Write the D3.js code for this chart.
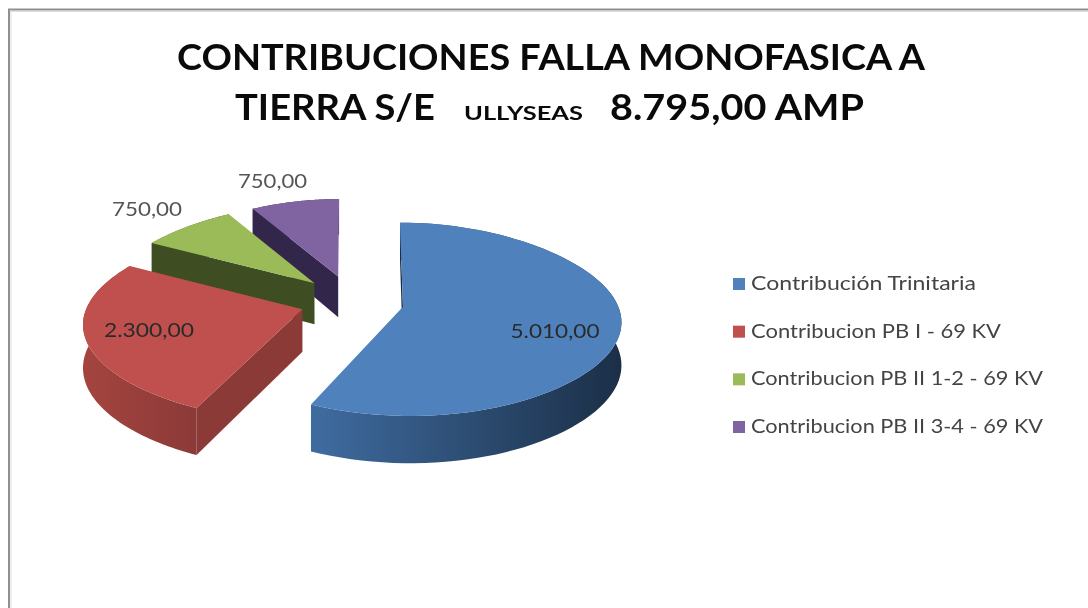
<!DOCTYPE html>
<html><head><meta charset="utf-8">
<script src="https://cdn.jsdelivr.net/npm/d3@7"></script>
<style>html,body{margin:0;padding:0;background:#fff}svg{display:block}text{font-family:Lato,"Open Sans",sans-serif}</style>
</head><body><div id="c"></div>
<script>
const categories=["Contribución Trinitaria","Contribucion PB I - 69 KV","Contribucion PB II 1-2 - 69 KV","Contribucion PB II 3-4 - 69 KV"];
const values=[5010,2300,750,750];
const valueLabels=["5.010,00","2.300,00","750,00","750,00"];
const topColors=["#4f81bd","#c0504d","#9bbb59","#8064a2"];
const faceColors=["#1b2f47","#8b3a38","#3f4e22","#32264a"];
const rimLight=["#3f6ca0","#a5443f","#5f7a2e","#4b3a6e"];
const rimDark=["#1b2f47","#8b3a38","#3f4e22","#32264a"];
const titleLine1="CONTRIBUCIONES FALLA MONOFASICA A";

const W=1088,H=608;
const svg=d3.select("#c").append("svg").attr("width",W).attr("height",H);
svg.append("rect").attr("x",9).attr("y",9.5).attr("width",W+20).attr("height",H+20).attr("fill","#fff").attr("stroke","#8f8f8f").attr("stroke-width",2);
svg.append("rect").attr("x",11).attr("y",11.5).attr("width",W+20).attr("height",H+20).attr("fill","#fff").attr("stroke","#dedede").attr("stroke-width",1);
const g=svg.append("g").style("filter","blur(0.6px)");

// projection
const cx=352,cy=301,R=213,Ry=93.5,k1=0.16,k2=0.06,ky=0.13,explode=0.245,explodeY=0.28,depth=42,samples=80;
const sx=d3.scaleLinear().domain([0,1]).range([cx,cx+R]);
const sy=d3.scaleLinear().domain([0,1]).range([cy,cy+Ry]);
function rimPt(a,t,z){
  const u=Math.sin(t),v=-Math.cos(t),V=a.oy+v;
  const w=1-k1*V+k2*V*V;
  const X=sx(a.ox*(1+0.1*V+0.04*V*V)+u/w);
  return [X, sy(V/(1-ky*V))+z*depth*(1+0.12*V)];
}
function apex(a,z){
  return [sx(a.ox), sy(a.oy/(1-ky*a.oy))+z*depth*(1+0.12*a.oy)];
}
const arcs=d3.pie().sort(null).value(d=>d)(values);
const defs=svg.append("defs");
const line=d3.line();
arcs.forEach(a=>{const m=(a.startAngle+a.endAngle)/2;a.ox=Math.sin(m)*explode;a.oy=-Math.cos(m)*explodeY;});

[3,2,1,0].forEach(i=>{
  const a=arcs[i];
  const ts=d3.range(samples+1).map(j=>a.startAngle+(a.endAngle-a.startAngle)*j/samples);
  const top=ts.map(t=>rimPt(a,t,0));
  const bot=ts.map(t=>rimPt(a,t,1));
  const gr=defs.append("linearGradient").attr("id","rim"+i).attr("gradientUnits","userSpaceOnUse")
    .attr("x1",d3.min(top,d=>d[0])).attr("x2",d3.max(top,d=>d[0])).attr("y1",0).attr("y2",0);
  gr.append("stop").attr("offset",0).attr("stop-color",rimLight[i]);
  gr.append("stop").attr("offset",1).attr("stop-color",rimDark[i]);
  const sl=g.append("g");
  sl.append("path").attr("d",line(top.concat(bot.slice().reverse()))+"Z").attr("fill",`url(#rim${i})`);
  // only the radial faces that look toward the viewer
  if(Math.sin(a.startAngle)<=1e-9) sl.append("path").attr("d",line([apex(a,0),top[0],bot[0],apex(a,1)])+"Z").attr("fill",faceColors[i]);
  sl.append("path").attr("d",line([apex(a,0)].concat(top))+"Z").attr("fill",topColors[i]);
});

// data labels
const labelPos=[[555,331],[149,330],[147,209],[272.5,181]];
const labelW=[89,90,70,69];
valueLabels.forEach((t,i)=>{
  g.append("text").attr("x",labelPos[i][0]-labelW[i]/2).attr("y",labelPos[i][1]+7)
   .attr("font-size",20).attr("fill",i<2?"#2a2a2a":"#555")
   .attr("textLength",labelW[i]).attr("lengthAdjust","spacingAndGlyphs").text(t);
});

// title
const T=(x,y,fs,len,t)=>g.append("text").attr("x",x).attr("y",y).attr("font-size",fs).attr("font-weight",700).attr("fill","#0a0a0a")
  .attr("textLength",len).attr("lengthAdjust","spacingAndGlyphs").text(t);
T(177,70,37,748,titleLine1);
T(235,120,37,200,"TIERRA S/E");
T(464,120,18,119,"ULLYSEAS");
T(610,120,37,254,"8.795,00 AMP");

// legend
const legendY=d3.scalePoint().domain(categories).range([284,427]);
const legendW=[225,250,292,292];
categories.forEach((c,i)=>{
  g.append("rect").attr("x",733).attr("y",legendY(c)-6).attr("width",12).attr("height",12).attr("fill",topColors[i]);
  g.append("text").attr("x",751).attr("y",legendY(c)+6).attr("font-size",19).attr("fill","#444")
   .attr("textLength",legendW[i]).attr("lengthAdjust","spacingAndGlyphs").text(c);
});
</script></body></html>
